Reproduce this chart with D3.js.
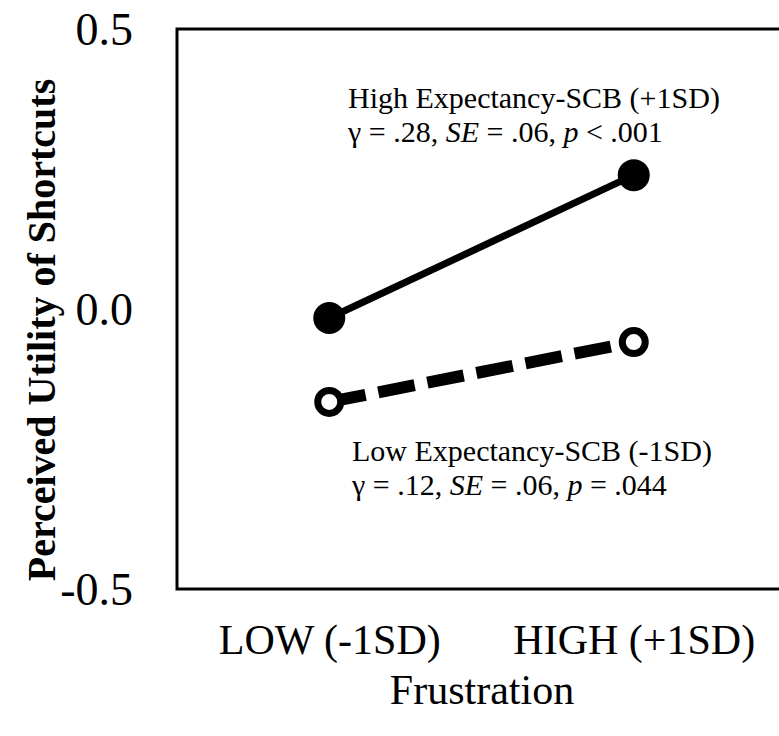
<!DOCTYPE html>
<html lang="en">
<head>
  <meta charset="UTF-8">
  <title>Perceived Utility of Shortcuts</title>
  <script src="https://d3js.org/d3.v7.min.js"></script>
  <style>
    body { margin: 0; background: #fff; }
    svg { display: block; }
    text { font-family: "Liberation Serif", "Times New Roman", serif; fill: #000; }
  </style>
</head>
<body>
  <svg width="779" height="736"></svg>
  <script>
    // data
    const frustration = ["LOW (-1SD)", "HIGH (+1SD)"];
    const highExpectancy = [-0.016, 0.239];
    const lowExpectancy = [-0.166, -0.059];
    const yTicks = [-0.5, 0.0, 0.5];

    const svg = d3.select("svg");

    const x = d3.scalePoint().domain(frustration).range([177, 786]).padding(0.5);
    const y = d3.scaleLinear().domain([-0.5, 0.5]).range([589, 29]);

    // frame: left, top and bottom lines (right side runs off the page)
    svg.append("path")
      .attr("d", `M800,${y(0.5)}H${x.range()[0]}V${y(-0.5)}H800`)
      .attr("fill", "none")
      .attr("stroke", "#000")
      .attr("stroke-width", 3);

    // y axis labels, no tick marks; plain hyphen for the minus
    const yAxis = svg.append("g")
      .attr("transform", "translate(177,0)")
      .call(d3.axisLeft(y).tickValues(yTicks).tickSize(0).tickPadding(44)
        .tickFormat(d => d.toFixed(1)));
    yAxis.select(".domain").remove();
    yAxis.selectAll("text")
      .attr("font-family", "Liberation Serif, serif")
      .attr("font-size", 46)
      .attr("dy", "0.34em");

    // x axis labels
    const xAxis = svg.append("g")
      .attr("transform", "translate(0,589)")
      .call(d3.axisBottom(x).tickSize(0).tickPadding(0));
    xAxis.select(".domain").remove();
    xAxis.selectAll("text")
      .attr("font-family", "Liberation Serif, serif")
      .attr("font-size", 42)
      .attr("dy", null)
      .attr("y", 65);

    svg.append("text")
      .attr("x", 482)
      .attr("y", 704)
      .attr("text-anchor", "middle")
      .attr("font-size", 42)
      .text("Frustration");

    svg.append("text")
      .attr("transform", "translate(55,330) rotate(-90)")
      .attr("text-anchor", "middle")
      .attr("font-size", 40)
      .attr("font-weight", "bold")
      .text("Perceived Utility of Shortcuts");

    const line = d3.line().x((d, i) => x(frustration[i])).y(d => y(d));

    svg.append("path")
      .datum(lowExpectancy)
      .attr("d", line)
      .attr("fill", "none")
      .attr("stroke", "#000")
      .attr("stroke-width", 12)
      .attr("stroke-dasharray", "37,13");

    svg.append("path")
      .datum(highExpectancy)
      .attr("d", line)
      .attr("fill", "none")
      .attr("stroke", "#000")
      .attr("stroke-width", 7);

    svg.selectAll(".high-dot")
      .data(highExpectancy)
      .join("circle")
      .attr("class", "high-dot")
      .attr("cx", (d, i) => x(frustration[i]))
      .attr("cy", d => y(d))
      .attr("r", 16)
      .attr("fill", "#000");

    svg.selectAll(".low-dot")
      .data(lowExpectancy)
      .join("circle")
      .attr("class", "low-dot")
      .attr("cx", (d, i) => x(frustration[i]))
      .attr("cy", d => y(d))
      .attr("r", 11.5)
      .attr("fill", "#fff")
      .attr("stroke", "#000")
      .attr("stroke-width", 7);

    // annotations
    function note(xPos, yPos, title, parts) {
      svg.append("text")
        .attr("x", xPos).attr("y", yPos)
        .attr("font-size", 30)
        .text(title);
      const t = svg.append("text")
        .attr("x", xPos).attr("y", yPos + 34)
        .attr("font-size", 30);
      parts.forEach(p => {
        t.append("tspan")
          .attr("font-style", p[1] ? "italic" : null)
          .text(p[0]);
      });
    }

    note(348, 108, "High Expectancy-SCB (+1SD)",
      [["\u03b3 = .28, ", false], ["SE", true], [" = .06, ", false], ["p", true], [" < .001", false]]);
    note(352, 461, "Low Expectancy-SCB (-1SD)",
      [["\u03b3 = .12, ", false], ["SE", true], [" = .06, ", false], ["p", true], [" = .044", false]]);
  </script>
</body>
</html>
